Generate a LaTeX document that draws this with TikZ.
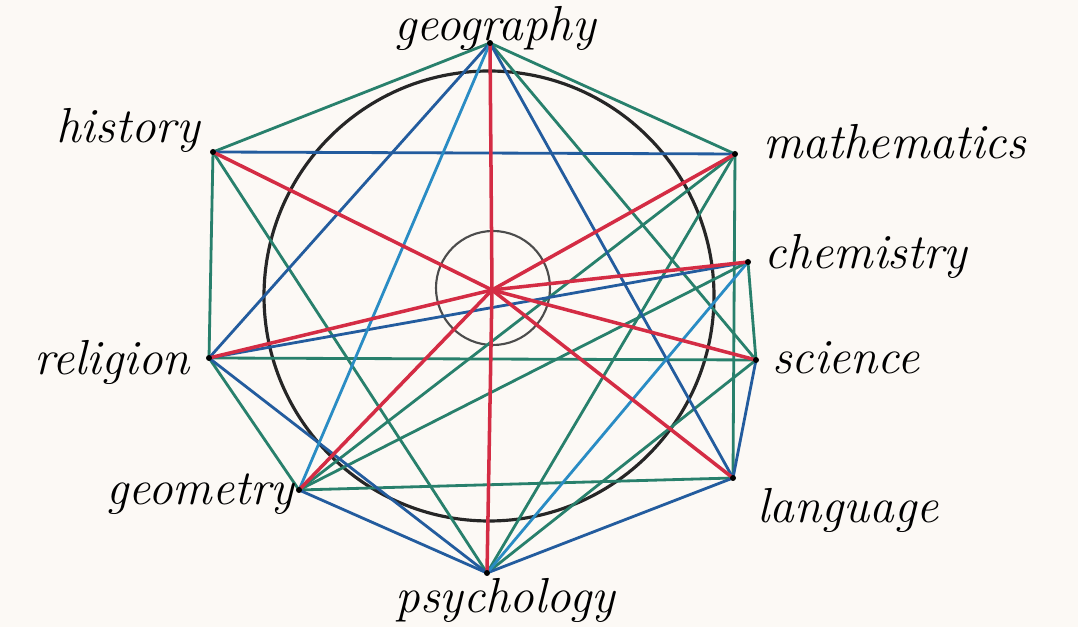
\documentclass[tikz,border=0pt]{standalone}
\usepackage{tikz}
\definecolor{paper}{RGB}{252,249,245}
\definecolor{pengreen}{RGB}{40,128,108}
\definecolor{penblue}{RGB}{35,92,158}
\definecolor{pencyan}{RGB}{42,140,196}
\definecolor{penred}{RGB}{212,44,68}
\tikzset{
  gline/.style={pengreen, line width=0.8pt},
  bline/.style={penblue, line width=0.8pt},
  cline/.style={pencyan, line width=0.8pt},
  rline/.style={penred, line width=1pt},
  ring/.style={black!85, line width=0.9pt},
  lbl/.style={font=\fontsize{14}{16}\selectfont\itshape, inner sep=1pt}
}

\begin{document}
\begin{tikzpicture}[x=0.1mm,y=-0.1mm]
    \fill[paper] (0,0) rectangle (1078,627);
    \useasboundingbox (0,0) rectangle (1078,627);
    % the nine subjects and the middle
    \coordinate (geo) at (490,43);
    \coordinate (hist) at (213,152);
    \coordinate (math) at (735,154);
    \coordinate (chem) at (748,262);
    \coordinate (rel) at (209,358);
    \coordinate (sci) at (756,360);
    \coordinate (geom) at (299,490);
    \coordinate (lang) at (733,478);
    \coordinate (psy) at (487,573);
    \coordinate (ctr) at (492,290);
    % circles
    \draw[ring] (489,296) circle[radius=225];
    \draw[ring, line width=0.6pt, black!70] (493,288) circle[radius=57];
    % links
    \foreach \a/\b in {geo/hist, geo/math, geo/sci, hist/rel, hist/psy, math/lang,
                       math/geom, math/psy, chem/geom, chem/sci, rel/sci, rel/geom,
                       geom/lang, sci/psy}
        { \draw[gline] (\a) -- (\b); }
    \foreach \a/\b in {geo/rel, geo/lang, hist/math, rel/chem, rel/psy, geom/psy,
                       psy/lang, sci/lang}
        { \draw[bline] (\a) -- (\b); }
    \foreach \a/\b in {geo/geom, psy/chem}
        { \draw[cline] (\a) -- (\b); }
    \foreach \p in {geo, hist, math, chem, rel, sci, geom, lang, psy}
        { \draw[rline] (ctr) -- (\p); }
    \foreach \p in {geo, hist, math, chem, rel, sci, geom, lang, psy}
        { \fill[black] (\p) circle[radius=3]; }
    % labels
    \node[lbl] (geolbl) at (495,28) {geography};
    \node[lbl] (histlbl) at (128,130) {history};
    \node[lbl] (mathlbl) at (895,142) {mathematics};
    \node[lbl] (chemlbl) at (866,256) {chemistry};
    \node[lbl] (rellbl) at (112,362) {religion};
    \node[lbl] (scilbl) at (846,358) {science};
    \node[lbl] (geomlbl) at (200,494) {geometry};
    \node[lbl] (langlbl) at (848,510) {language};
    \node[lbl] (psylbl) at (505,600) {psychology};
\end{tikzpicture}
\end{document}
